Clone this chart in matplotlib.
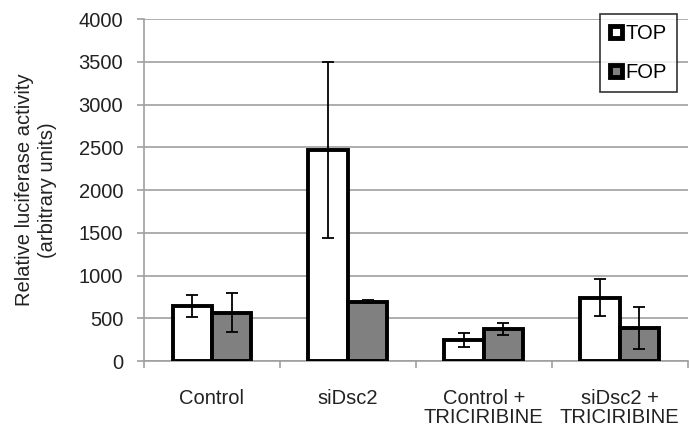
import numpy as np
import matplotlib.pyplot as plt
from matplotlib.ticker import MultipleLocator, FixedLocator

plt.rcParams['font.family'] = ['Liberation Sans', 'DejaVu Sans']

categories = ['Control', 'siDsc2', 'Control +\nTRICIRIBINE', 'siDsc2 +\nTRICIRIBINE']
top_vals = [645, 2470, 245, 742]
top_err = [125, 1030, 80, 220]
fop_vals = [567, 694, 372, 384]
fop_err = [230, 15, 72, 242]

fs = 14.5
txt = '#222222'

fig = plt.figure(figsize=(6.89, 4.29), dpi=100)
ax = fig.add_axes([0.209, 0.1585, 0.789, 0.797])

x = np.arange(len(categories))
w = 0.29
ekw = dict(ecolor='black', elinewidth=1.3, capsize=4, capthick=1.3)
ax.bar(x - w / 2, top_vals, w, color='white', edgecolor='black', linewidth=2.8,
       yerr=top_err, error_kw=ekw, label='TOP', zorder=3)
ax.bar(x + w / 2, fop_vals, w, color='#808080', edgecolor='black', linewidth=2.8,
       yerr=fop_err, error_kw=ekw, label='FOP', zorder=3)

ax.set_xlim(-0.5, len(categories) - 0.5)
ax.set_ylim(0, 4000)
ax.yaxis.set_major_locator(MultipleLocator(500))
ax.grid(axis='y', color='#a0a0a0', linewidth=1.2, zorder=0)

ax.set_xticks(x)
ax.set_xticklabels(categories, fontsize=fs, color=txt, linespacing=1.0)
ax.xaxis.set_minor_locator(FixedLocator(np.arange(-0.5, len(categories), 1)))
ax.tick_params(axis='x', which='major', length=0, pad=20)
ax.tick_params(axis='x', which='minor', length=5, color='#a0a0a0', width=1.2)
ax.tick_params(axis='y', length=5, color='#a0a0a0', width=1.2, labelsize=fs,
               labelcolor=txt, pad=10)

for s in ['top', 'right']:
    ax.spines[s].set_visible(False)
for s in ['left', 'bottom']:
    ax.spines[s].set_color('#a0a0a0')
    ax.spines[s].set_linewidth(1.2)

ax.set_ylabel('Relative luciferase activity\n(arbitrary units)', fontsize=fs,
              color=txt, linespacing=1.25)
ax.yaxis.set_label_coords(-0.16, 0.5)

leg = ax.legend(loc='upper right', bbox_to_anchor=(677 / 689, 1 - 14 / 429),
                bbox_transform=fig.transFigure, fontsize=fs, frameon=True,
                fancybox=False, edgecolor='black', handlelength=0.55, handleheight=0.55,
                handletextpad=0.2, labelspacing=1.0, borderpad=0.5, borderaxespad=0)
leg.get_frame().set_linewidth(1.2)
for h in leg.legend_handles:
    h.set_linewidth(3.5)

fig.savefig('out.png', dpi=100)
